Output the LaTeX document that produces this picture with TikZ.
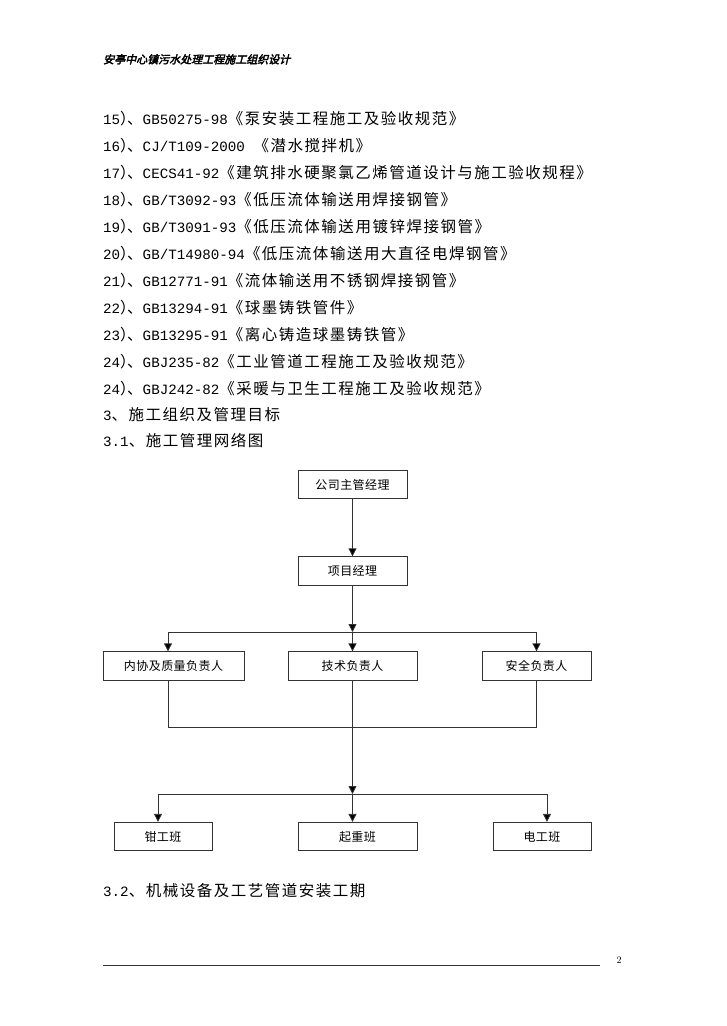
\documentclass[tikz,border=0pt]{standalone}
\usepackage{fontspec}
\usetikzlibrary{arrows.meta}

\newfontfamily\cjkf[LetterSpace=9.7]{Noto Sans CJK SC}
\newfontfamily\boxf[LetterSpace=4]{Noto Sans CJK SC}
\newfontfamily\hdrf[FakeSlant=0.25,FakeBold=3]{Noto Sans CJK SC}
\newfontfamily\monof{Liberation Mono}

\newcommand\cj[1]{{\cjkf\fontsize{15.5}{18}\selectfont #1}}
\newcommand\la[1]{{\monof\fontsize{14.2}{18}\selectfont #1}}
\newcommand\stdline[3]{\la{#1}\cj{）}\kern-8.5pt\cj{、}\la{#2}\cj{#3}}

\tikzset{
  listline/.style={anchor=base west, inner sep=0pt},
  orgbox/.style={draw=black!80, line width=0.8pt, minimum height=28.5pt, inner sep=0pt,
    font=\boxf\fontsize{12}{14}\selectfont},
  wire/.style={draw=black!80, line width=0.8pt},
  conn/.style={wire, -{Triangle[width=8pt,length=8pt,fill=black]}}
}

\begin{document}
\begin{tikzpicture}[x=1pt, y=-1pt]
  % page
  \fill[white] (0,0) rectangle (726,1026);
  \useasboundingbox (0,0) rectangle (726,1026);

  % header
  \node[listline] (hdr) at (103,63.5) {\hdrf\fontsize{11}{13}\selectfont 安亭中心镇污水处理工程施工组织设计};

  % standards list
  \node[listline] (l15) at (103,124) {\stdline{15}{GB50275-98}{《泵安装工程施工及验收规范》}};
  \node[listline] (l16) at (103,151) {\stdline{16}{CJ/T109-2000 }{《潜水搅拌机》}};
  \node[listline] (l17) at (103,178) {\stdline{17}{CECS41-92}{《建筑排水硬聚氯乙烯管道设计与施工验收规程》}};
  \node[listline] (l18) at (103,205) {\stdline{18}{GB/T3092-93}{《低压流体输送用焊接钢管》}};
  \node[listline] (l19) at (103,232) {\stdline{19}{GB/T3091-93}{《低压流体输送用镀锌焊接钢管》}};
  \node[listline] (l20) at (103,259) {\stdline{20}{GB/T14980-94}{《低压流体输送用大直径电焊钢管》}};
  \node[listline] (l21) at (103,286) {\stdline{21}{GB12771-91}{《流体输送用不锈钢焊接钢管》}};
  \node[listline] (l22) at (103,313) {\stdline{22}{GB13294-91}{《球墨铸铁管件》}};
  \node[listline] (l23) at (103,340) {\stdline{23}{GB13295-91}{《离心铸造球墨铸铁管》}};
  \node[listline] (l24a) at (103,367) {\stdline{24}{GBJ235-82}{《工业管道工程施工及验收规范》}};
  \node[listline] (l24b) at (103,394) {\stdline{24}{GBJ242-82}{《采暖与卫生工程施工及验收规范》}};

  % section titles
  \node[listline] (s3) at (103,420) {\la{3}\cj{、施工组织及管理目标}};
  \node[listline] (s31) at (103,446) {\la{3.1}\cj{、施工管理网络图}};

  % org chart
  \node[orgbox, minimum width=109pt] (gm) at (352.5,484.5) {公司主管经理};
  \node[orgbox, minimum width=109pt] (pm) at (352.5,571) {项目经理};
  \node[orgbox, minimum width=141pt] (qa) at (173.5,666) {内协及质量负责人};
  \node[orgbox, minimum width=129pt] (tech) at (352.5,666) {技术负责人};
  \node[orgbox, minimum width=109pt] (safe) at (536.5,666) {安全负责人};
  \node[orgbox, minimum width=98pt] (fit) at (163,836.5) {钳工班};
  \node[orgbox, minimum width=119pt] (lift) at (357.5,836.5) {起重班};
  \node[orgbox, minimum width=98pt] (elec) at (542,836.5) {电工班};

  \coordinate (b1) at (352.5,632);
  \coordinate (j) at (352.5,727);
  \coordinate (b2) at (352.5,794);

  \draw[conn] (gm) -- (pm);
  \draw[conn] (pm) -- (b1);
  \draw[conn] (b1) -| ([xshift=-5.5pt]qa.north);
  \draw[conn] (b1) -- (tech);
  \draw[conn] (b1) -| (safe.north);

  \draw[wire] ([xshift=-5.5pt]qa.south) |- (j) -| (safe.south);
  \draw[conn] (tech) -- (b2);
  \draw[conn] (b2) -| ([xshift=-5pt]fit.north);
  \draw[conn] (b2) -- ([xshift=-5pt]lift.north);
  \draw[conn] (b2) -| ([xshift=5pt]elec.north);

  % next section
  \node[listline] (s32) at (103,896) {\la{3.2}\cj{、机械设备及工艺管道安装工期}};

  % footer
  \coordinate (fl) at (103,965);
  \coordinate (fr) at (600,965);
  \draw[black!80, line width=0.9pt] (fl) -- (fr);
  \node[inner sep=0pt] (pg) at (619,960) {\fontsize{10}{12}\selectfont 2};
\end{tikzpicture}
\end{document}
